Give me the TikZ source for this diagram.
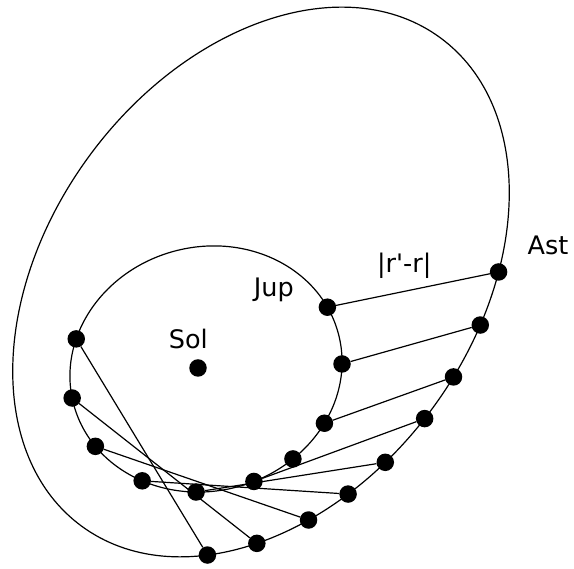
\documentclass[tikz,border=0pt]{standalone}
\usepackage{fontspec}
\setmainfont{DejaVu Sans}[Ligatures=TeXOff]
\usetikzlibrary{backgrounds}
\begin{document}
\begin{tikzpicture}[x=1pt,y=1pt,
  orbit/.style={line width=1.2pt},
  link/.style={line width=1.2pt},
  dot/.style={circle,fill=black,draw=none,inner sep=0pt,minimum size=17.5pt},
  lbl/.style={inner sep=0pt,anchor=base,font=\fontsize{25.5}{30}\selectfont}]
\useasboundingbox (0,0) rectangle (574,569);
% orbits
\draw[orbit,rotate around={53.7:(261,287)}] (261,287) ellipse (303 and 213);
\draw[orbit,rotate around={15:(206,200)}] (206,200) ellipse (137 and 122);
% Jupiter positions
\begin{scope}[shift={(206,200)},rotate=15]
\foreach \t [count=\i] in {13.4,-14.4,-42.9,-63.7,-82.8,-107.6,-131.4,-157.8,-183.1,-210.9}
  \node[dot] (j\i) at (\t:137 and 122) {};
\end{scope}
% asteroid positions
\begin{scope}[shift={(261,287)},rotate=53.7]
\foreach \t [count=\i] in {-60.6,-71.7,-82.9,-92.5,-103.7,-113.2,-122.7,-134.7,-146.2}
  \node[dot] (a\i) at (\t:303 and 213) {};
\end{scope}
\node[dot] (sol) at (198,201) {};
% labels
\node[lbl] (lsol) at (188.3,220.7) {Sol};
\node[lbl] (ljup) at (273.8,272.3) {Jup};
\node[lbl] (last) at (548,314) {Ast};
\node[lbl] (ldist) at (404.2,296) {|r'-r|};
% connectors
\begin{scope}[on background layer]
\draw[link] (j1) -- (a1);
\draw[link] (j2) -- (a2);
\draw[link] (j3) -- (a3);
\draw[link] (j5) -- (a4);
\draw[link] (j6) -- (a5);
\draw[link] (j7) -- (a6);
\draw[link] (j8) -- (a7);
\draw[link] (j9) -- (a8);
\draw[link] (j10) -- (a9);
\end{scope}
\end{tikzpicture}
\end{document}
